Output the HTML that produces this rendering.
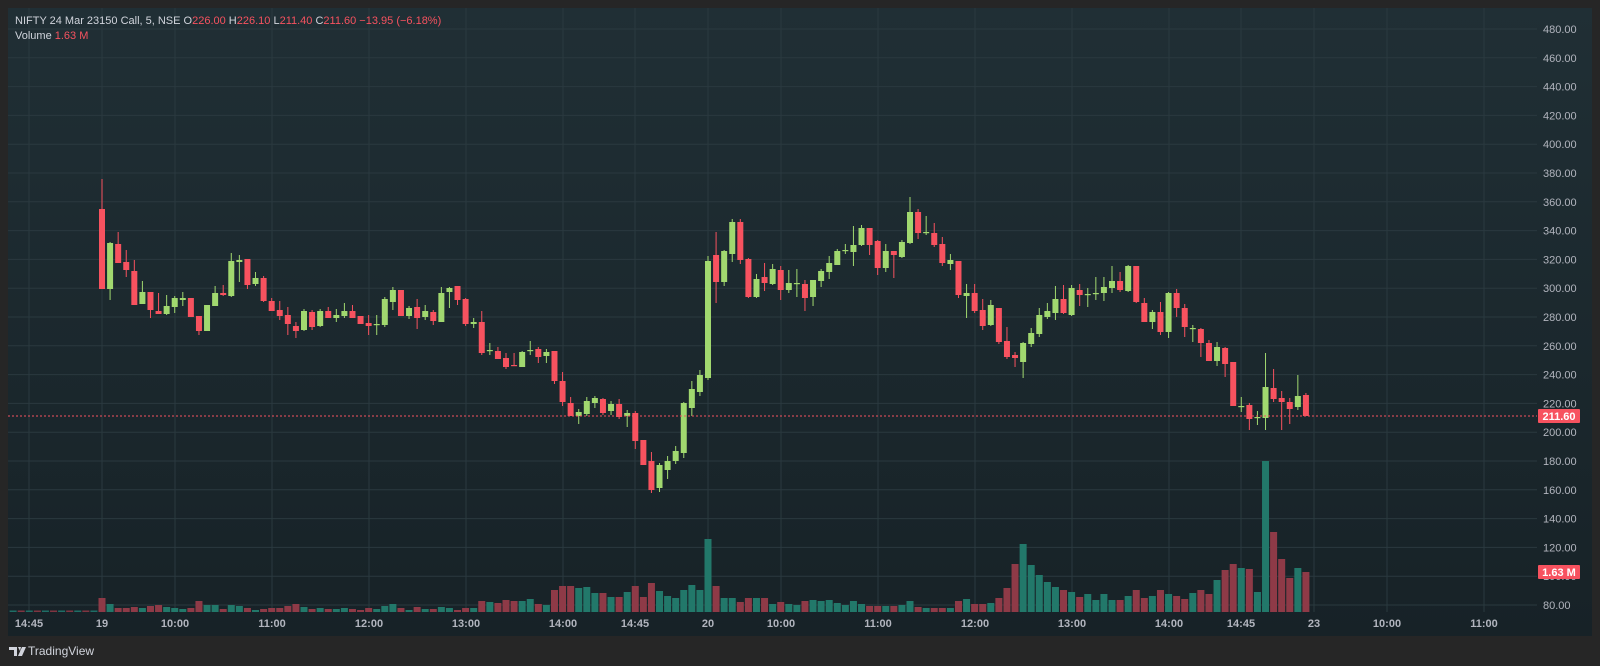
<!DOCTYPE html>
<html><head><meta charset="utf-8"><style>
html,body{margin:0;padding:0;background:#262626;width:1600px;height:666px;overflow:hidden;font-family:"Liberation Sans",sans-serif}
svg{position:absolute;left:0;top:0}
</style></head><body>
<svg id="s" width="1600" height="666" xmlns="http://www.w3.org/2000/svg">
<defs><linearGradient id="bg" x1="0" y1="0" x2="0" y2="1"><stop offset="0" stop-color="#202f35"/><stop offset="1" stop-color="#172227"/></linearGradient></defs>
<rect x="8" y="8" width="1584" height="628" fill="url(#bg)"/>
<g id="grid"></g><g id="vol"></g><g id="cdl"></g><g id="txt"></g>
<text x="15" y="24" font-size="11" fill="#d1d4dc">NIFTY 24 Mar 23150 Call, 5, NSE  O<tspan fill="#f7525f">226.00</tspan>  H<tspan fill="#f7525f">226.10</tspan>  L<tspan fill="#f7525f">211.40</tspan>  C<tspan fill="#f7525f">211.60 −13.95 (−6.18%)</tspan></text>
<text x="15" y="39" font-size="11" fill="#d1d4dc">Volume  <tspan fill="#f7525f">1.63 M</tspan></text>
<g transform="translate(9,645)"><path d="M0 2h8v9h-3v-6h-5z M9 2h3l-1 4z M13 2h4l-4 9h-4z" fill="#d1d4dc"/></g>
<text x="28" y="655" font-size="12" fill="#d1d4dc">TradingView</text>
</svg>
<script>
const NS="http://www.w3.org/2000/svg";
function el(p,t,a,txt){const e=document.createElementNS(NS,t);for(const k in a)e.setAttribute(k,a[k]);if(txt!==undefined)e.textContent=txt;document.getElementById(p).appendChild(e);return e;}
const yp=p=>605-(p-80)*1.44;
const X=i=>102+8.08*i;
for(let p=80;p<=480;p+=20){const y=yp(p);el('grid','line',{x1:8,x2:1537,y1:y,y2:y,stroke:'#2a393f','stroke-width':1});
 el('txt','text',{x:1543,y:y+4,'font-size':11,fill:'#b2b5be'},p.toFixed(2));}
const tl=[[29,'14:45'],[102,'19'],[175,'10:00'],[272,'11:00'],[369,'12:00'],[466,'13:00'],[563,'14:00'],[635,'14:45'],[708,'20'],[781,'10:00'],[878,'11:00'],[975,'12:00'],[1072,'13:00'],[1169,'14:00'],[1241,'14:45'],[1314,'23'],[1387,'10:00'],[1484,'11:00']];
for(const [x,t] of tl){el('grid','line',{x1:x,x2:x,y1:8,y2:612,stroke:'#2a393f','stroke-width':1});
 el('txt','text',{x:x,y:627,'font-size':11,fill:'#b2b5be','text-anchor':'middle','font-weight':'bold'},t);}
const D=[[209,289,179,289],[289,243,242,300],[244,263,232,263],[262,270,250,277],[271,305,260,305],[304,292,281,304],[292,310,292,318],[311,314,293,314],[314,306,295,315],[307,298,296,313],[300,298,292,306],[298,317,298,317],[316,331,316,335],[331,305,305,331],[306,293,286,306],[293,295,285,296],[296,261,253,297],[262,260,255,282],[259,285,259,289],[284,278,272,286],[278,301,276,302],[301,311,298,311],[310,316,301,320],[315,324,307,335],[326,331,322,338],[330,311,309,331],[312,327,310,330],[326,311,309,327],[311,318,307,318],[318,315,309,322],[316,311,303,318],[311,318,305,318],[316,324,316,324],[323,326,315,335],[325,324,315,335],[325,299,297,327],[302,290,287,310],
[290,316,290,316],[316,308,306,319],[307,318,299,329],[317,311,305,320],[312,321,310,325],[322,293,287,322],[292,288,287,308],[286,300,286,305],[299,324,298,326],[324,322,318,328],[322,353,311,355],[350,350,343,355],[351,359,347,359],[358,367,353,369],[365,366,353,366],[367,352,351,367],[351,350,341,355],[349,357,347,363],[356,352,349,363],[351,381,351,384],[381,402,372,406],[403,416,397,416],[416,412,409,424],[414,401,397,416],[403,398,396,408],[399,413,398,415],[411,404,401,415],[404,417,399,419],[416,413,410,427],[413,441,411,449],[440,465,440,465],[461,490,452,493],[488,465,463,492],[470,461,456,479],[461,451,446,464],[453,403,402,458],[408,389,381,416],[392,375,370,396],
[378,261,256,380],[255,282,232,303],[282,251,250,286],[254,222,219,262],[222,260,219,264],[259,297,258,298],[297,279,274,298],[277,283,263,291],[284,269,264,285],[270,290,266,300],[290,283,270,293],[284,283,269,297],[284,298,280,311],[297,280,280,306],[281,271,269,287],[272,263,256,279],[265,251,249,265],[250,250,244,254],[252,245,226,266],[245,228,225,246],[228,245,228,255],[241,268,240,275],[268,251,244,272],[251,255,251,278],[257,242,240,258],[243,212,197,244],[212,233,209,239],[233,232,216,235],[233,245,223,247],[244,263,237,266],[264,260,254,270],[261,295,261,298],[296,293,284,318],[293,311,284,313],[310,326,299,330],[325,305,300,326],
[308,342,308,344],[341,357,327,359],[355,358,352,367],[362,343,342,378],[344,333,328,347],[334,315,308,337],[317,311,303,319],[313,299,286,320],[299,313,285,314],[315,288,285,316],[290,295,284,306],[294,294,288,307],[294,293,277,300],[293,287,277,301],[288,281,266,293],[281,290,272,292],[291,266,265,292],[266,302,266,303],[303,322,298,322],[322,312,310,329],[312,332,302,335],[332,293,292,338],[293,308,289,317],[308,327,304,337],[328,328,325,342],[329,343,328,357],[343,361,340,361],[361,347,342,366],[348,364,347,377],[362,406,362,406],[406,406,397,412],[405,419,403,430],[418,417,411,425],[418,387,353,430],[388,399,369,402],[398,402,391,430],[402,409,398,424],[407,396,375,410],[395,416,393,416]];
const V=[14,8,4,4,5,4,6,7,5,4,3,4,11,7,7,3,7,6,4,2,3,4,4,6,8,5,3,4,3,3,4,3,2,4,3,6,8,4,2,5,
3,3,5,4,2,4,4,11,10,9,12,11,11,13,8,7,22,26,26,24,25,19,19,15,15,20,26,15,29,21,16,14,22,27,22,
73,26,14,14,10,14,14,14,8,10,8,7,11,12,11,12,9,7,11,8,6,6,6,6,7,11,5,4,4,4,4,11,13,8,8,9,14,24,48,68,47,37,30,25,22,20,15,18,12,18,12,12,16,22,14,16,22,18,16,
13,19,22,18,32,42,48,44,43,20,151,80,53,34,44,40];
for(let i=-11;i<0;i++){el('vol','rect',{x:X(i)-3.5,y:610.5,width:7,height:1.5,fill:i%2?'#1f6e66':'#7f3541'});}
D.forEach((d,i)=>{const [o,c,h,l]=d;const up=c<=o;const x=X(i);
 const col=up?'#a1d86f':'#f7525f';
 const v=V[i]||4;
 el('vol','rect',{x:x-3.5,y:612-v,width:7,height:v,fill:up?'#22786a':'#8e3a47'});
 el('cdl','line',{x1:x,x2:x,y1:h,y2:l,stroke:col,'stroke-width':1});
 const t=Math.min(o,c),b=Math.max(o,c);
 el('cdl','rect',{x:x-3,y:t,width:6,height:Math.max(1.2,b-t),fill:col});
});
el('cdl','line',{x1:8,x2:1537,y1:416,y2:416,stroke:'#f7525f','stroke-width':1,'stroke-dasharray':'2,2'});
el('txt','rect',{x:1538,y:409,width:42,height:14,fill:'#f7525f',rx:1});
el('txt','text',{x:1559,y:420,'font-size':11,fill:'#fff','text-anchor':'middle','font-weight':'bold'},'211.60');
el('txt','rect',{x:1538,y:565,width:42,height:14,fill:'#f7525f',rx:1});
el('txt','text',{x:1559,y:576,'font-size':11,fill:'#fff','text-anchor':'middle','font-weight':'bold'},'1.63 M');
</script>
</body></html>
